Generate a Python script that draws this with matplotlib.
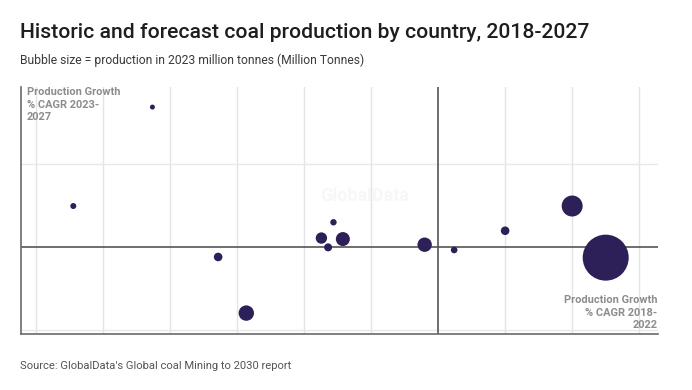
import matplotlib
matplotlib.use('Agg')
import matplotlib.pyplot as plt

# CAGR 2018-2022 (x), CAGR 2023-2027 (y), production 2023 (Mt)
cagr_hist = [-27.2, -21.3, -16.4, -14.3, -8.7, -8.2, -7.8, -7.1, -1.0, 1.2, 5.0, 10.0, 12.5]
cagr_fcst = [2.47, 8.43, -0.60, -3.98, 0.54, -0.02, 1.49, 0.48, 0.14, -0.18, 0.98, 2.47, -0.64]
production = [77, 53, 157, 504, 276, 136, 87, 417, 440, 93, 157, 937, 4500]

x_grid = [-30, -25, -20, -15, -10, -5, 5, 10, 15]
y_grid = [-5, 5]

W, H = 692, 390
fig = plt.figure(figsize=(W / 100, H / 100), dpi=100)
fig.patch.set_facecolor('white')

# axes placed in pixel units
left, right, top, bottom = 21, 658, 87, 334
ax = fig.add_axes([left / W, 1 - bottom / H, (right - left) / W, (bottom - top) / H])
ax.set_xlim(-31.1, 16.4)
ax.set_ylim(-5.24, 9.64)

for xv in x_grid:
    ax.axvline(xv, color='#e4e4e4', lw=1.0, zorder=0)
for yv in y_grid:
    ax.axhline(yv, color='#e8e8e8', lw=1.0, zorder=0)
ax.axvline(0, color='#555555', lw=1.2, zorder=1)
ax.axhline(0, color='#555555', lw=1.2, zorder=1)

for side in ['top', 'right']:
    ax.spines[side].set_visible(False)
for side in ['left', 'bottom']:
    ax.spines[side].set_color('#6a6a6a')
    ax.spines[side].set_linewidth(1.2)
ax.set_xticks([])
ax.set_yticks([])

# watermark
ax.text(-5.5, 3.1, 'GlobalData', fontsize=13, fontweight='bold', color='#f7f7f7',
        ha='center', va='center', family='Roboto', zorder=0)

# bubble area ~ production
sizes = [p * 0.2437 for p in production]
ax.scatter(cagr_hist, cagr_fcst, s=sizes, color='#2d2058', edgecolors='none', zorder=3)

ax.text(0.009, 0.998, 'Production Growth\n% CAGR 2023-\n2027', transform=ax.transAxes,
        ha='left', va='top', fontsize=7.9, fontweight='bold', color='#8c8c8c',
        family='Roboto', linespacing=1.3)
ax.text(0.999, 0.015, 'Production Growth\n% CAGR 2018-\n2022', transform=ax.transAxes,
        ha='right', va='bottom', fontsize=7.9, fontweight='bold', color='#8c8c8c',
        family='Roboto', linespacing=1.3, multialignment='right')

fig.text(20 / W, 1 - 32 / H, 'Historic and forecast coal production by country, 2018-2027',
         ha='left', va='center', fontsize=15.2, fontweight='medium', color='#1e1e1e', family='Roboto')
fig.text(20 / W, 1 - 60 / H, 'Bubble size = production in 2023 million tonnes (Million Tonnes)',
         ha='left', va='center', fontsize=8.75, color='#3a3a3a', family='Roboto')
fig.text(20 / W, 1 - 366 / H, "Source: GlobalData's Global coal Mining to 2030 report",
         ha='left', va='center', fontsize=8.15, color='#555555', family='Roboto')

fig.savefig('out.png', dpi=100, facecolor='white')
